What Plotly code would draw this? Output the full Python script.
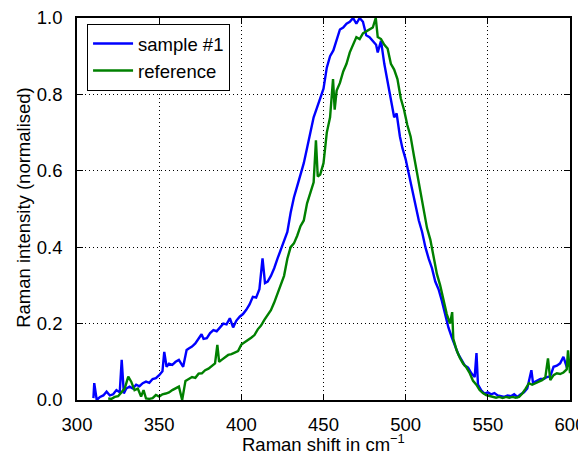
import plotly.graph_objects as go

# ---- data ----
sample_x = [310, 310.5, 312, 314, 316, 318, 320, 322, 324, 326, 327.2, 328.5, 330, 332, 334, 336, 338, 340, 342, 344,
            346, 348, 350, 352, 353.1, 354.5, 356, 358, 360, 362, 364.6, 366.7, 368, 370, 372, 374, 375.8, 377, 379, 381,
            383, 385, 387, 389, 391, 393, 395, 397, 399, 401, 403, 405, 407, 409, 411, 412.9, 414.4, 416, 418, 420,
            422, 424, 426, 428, 430, 432, 434, 436, 438, 440, 442, 444, 446, 448, 450, 452, 454, 456, 458, 460,
            462, 464, 466, 468, 470, 472, 474, 476, 478, 480, 482, 483, 485, 487, 489, 491, 493, 494.5, 496.5, 498,
            500, 502, 504, 506, 508, 510, 512, 514, 516, 518, 520, 522, 524, 526, 528, 530, 532, 534, 536, 538,
            540, 542, 543.1, 544, 546, 548, 550, 552, 554, 556, 558, 560, 562, 564, 566, 568, 570, 572, 574, 576.5,
            577.5, 580, 582, 584, 586, 588, 590, 592, 594, 596, 598, 600]
sample_y = [0.005, 0.044, 0.0, 0.008, 0.012, 0.022, 0.012, 0.015, 0.026, 0.02, 0.105, 0.017, 0.03, 0.035, 0.03, 0.04,
            0.036, 0.044, 0.048, 0.045, 0.055, 0.057, 0.065, 0.075, 0.126, 0.087, 0.095, 0.092, 0.1, 0.105, 0.087,
            0.131, 0.135, 0.14, 0.148, 0.162, 0.172, 0.16, 0.162, 0.175, 0.183, 0.18, 0.19, 0.2, 0.198, 0.214, 0.19,
            0.208, 0.218, 0.225, 0.236, 0.25, 0.27, 0.268, 0.29, 0.371, 0.306, 0.31, 0.325, 0.345, 0.37, 0.392, 0.414,
            0.44, 0.49, 0.53, 0.56, 0.59, 0.62, 0.66, 0.70, 0.74, 0.765, 0.79, 0.815, 0.87, 0.9, 0.915, 0.94, 0.97,
            0.975, 0.985, 0.99, 1.0, 0.985, 1.0, 0.99, 0.955, 0.95, 0.94, 0.93, 0.91, 0.94, 0.88, 0.83, 0.78, 0.74,
            0.75, 0.69, 0.66, 0.63, 0.59, 0.55, 0.51, 0.47, 0.44, 0.40, 0.37, 0.345, 0.31, 0.29, 0.26, 0.225, 0.19,
            0.165, 0.14, 0.12, 0.105, 0.09, 0.085, 0.07, 0.06, 0.123, 0.04, 0.025, 0.017, 0.02, 0.015, 0.018, 0.012,
            0.01, 0.008, 0.012, 0.01, 0.015, 0.008, 0.015, 0.02, 0.03, 0.078, 0.045, 0.05, 0.055, 0.055, 0.06, 0.062,
            0.087, 0.09, 0.096, 0.113, 0.087, 0.095]

reference_x = [319, 321, 323, 325, 327, 329, 331.2, 333, 335, 337, 339, 340.5, 342, 344, 346, 348, 350, 352, 354, 356,
               358, 360, 362, 364, 366, 368, 370, 372, 374, 376, 378, 380, 382, 384, 385.4, 386.5, 388, 390, 392, 394,
               396, 398, 400, 402, 404, 406, 408, 410, 412, 414, 416, 418, 420, 422, 424, 426, 428, 430, 432, 434,
               436, 438, 440, 442, 444, 445.4, 446.5, 448, 450, 452, 454, 455.8, 456.8, 458, 460, 462, 464, 466, 468, 470,
               472, 474, 476, 478, 480, 481.8, 483, 485, 487, 489, 491, 493, 495, 497, 499, 501, 503, 505, 507, 509,
               511, 513, 515, 517, 519, 521, 523, 525, 527, 528.3, 529, 531, 533, 535, 537, 539, 541, 543, 545, 547,
               549, 551, 553, 555, 557, 559, 561, 563, 565, 567, 569, 571, 573, 575, 577, 579, 581, 583, 585, 586.6,
               588, 590, 592, 594, 596, 598, 598.8, 600]
reference_y = [0.004, 0.003, 0.008, 0.01, 0.02, 0.03, 0.061, 0.048, 0.026, 0.03, 0.009, 0.026, 0.004, 0.003, 0.005,
               0.013, 0.009, 0.015, 0.017, 0.02, 0.026, 0.031, 0.035, 0.0, 0.05, 0.055, 0.06, 0.058, 0.069, 0.07, 0.078,
               0.082, 0.09, 0.096, 0.144, 0.1, 0.105, 0.112, 0.118, 0.12, 0.125, 0.128, 0.145, 0.152, 0.157, 0.163,
               0.17, 0.185, 0.195, 0.21, 0.222, 0.235, 0.255, 0.28, 0.305, 0.325, 0.37, 0.40, 0.41, 0.43, 0.455, 0.47,
               0.515, 0.54, 0.57, 0.68, 0.585, 0.59, 0.62, 0.7, 0.74, 0.84, 0.76, 0.81, 0.83, 0.86, 0.88, 0.91, 0.93,
               0.95, 0.945, 0.96, 0.965, 0.97, 0.975, 1.0, 0.95, 0.945, 0.93, 0.92, 0.88, 0.865, 0.84, 0.79, 0.76, 0.72,
               0.69, 0.64, 0.59, 0.54, 0.49, 0.45, 0.42, 0.37, 0.33, 0.3, 0.26, 0.225, 0.2, 0.23, 0.16, 0.13, 0.11,
               0.095, 0.085, 0.07, 0.05, 0.04, 0.026, 0.018, 0.013, 0.01, 0.008, 0.006, 0.008, 0.005, 0.008, 0.006,
               0.008, 0.006, 0.008, 0.017, 0.03, 0.044, 0.04, 0.045, 0.048, 0.052, 0.06, 0.109, 0.052, 0.065, 0.07,
               0.068, 0.072, 0.08, 0.13, 0.07]

x_ticks = [300, 350, 400, 450, 500, 550, 600]
y_ticks = [0.0, 0.2, 0.4, 0.6, 0.8, 1.0]
x_title = "Raman shift in cm<sup>\u22121</sup>"
y_title = "Raman intensity (normalised)"

FONT = "Liberation Sans, Arial, sans-serif"
FS = 18.5

fig = go.Figure()
fig.add_trace(go.Scatter(x=sample_x, y=sample_y, mode="lines", name="sample #1",
                         line=dict(color="#0000ff", width=2.4)))
fig.add_trace(go.Scatter(x=reference_x, y=reference_y, mode="lines", name="reference",
                         line=dict(color="#008000", width=2.4)))

axis_common = dict(showline=True, linecolor="black", linewidth=1.6, mirror="ticks",
                   ticks="inside", ticklen=6, tickwidth=1.4, tickcolor="black",
                   showgrid=True, gridcolor="black", gridwidth=1, griddash="1px,3px",
                   zeroline=False, automargin=False, ticklabeloverflow="allow",
                   tickfont=dict(family=FONT, size=FS, color="black"))

fig.update_xaxes(range=[300, 600], tickvals=x_ticks, ticktext=[str(v) for v in x_ticks],
                 ticklabelstandoff=7, **axis_common)
fig.update_yaxes(range=[0, 1], tickvals=y_ticks, ticktext=[f"{v:.1f}" for v in y_ticks],
                 ticklabelstandoff=9, **axis_common)

fig.add_annotation(text=x_title, xref="paper", yref="paper", x=0.5, y=-0.112,
                   xanchor="center", yanchor="middle", showarrow=False,
                   font=dict(family=FONT, size=FS, color="black"))
fig.add_annotation(text=y_title, xref="paper", yref="paper", x=-0.1075, y=0.503,
                   xanchor="center", yanchor="middle", textangle=-90, showarrow=False,
                   font=dict(family=FONT, size=FS, color="black"))

# the page body has an 8px margin, so the figure is sized to fit inside the window
fig.update_layout(
    width=578, height=447,
    margin=dict(l=69, r=16, t=9.5, b=55),
    plot_bgcolor="white", paper_bgcolor="white",
    font=dict(family=FONT, color="black"),
    legend=dict(x=0.02, y=0.985, xanchor="left", yanchor="top",
                bgcolor="white", bordercolor="black", borderwidth=1.2,
                font=dict(family=FONT, size=FS, color="black"),
                itemwidth=40, tracegroupgap=0),
    showlegend=True,
)

fig.write_html("out.html")
